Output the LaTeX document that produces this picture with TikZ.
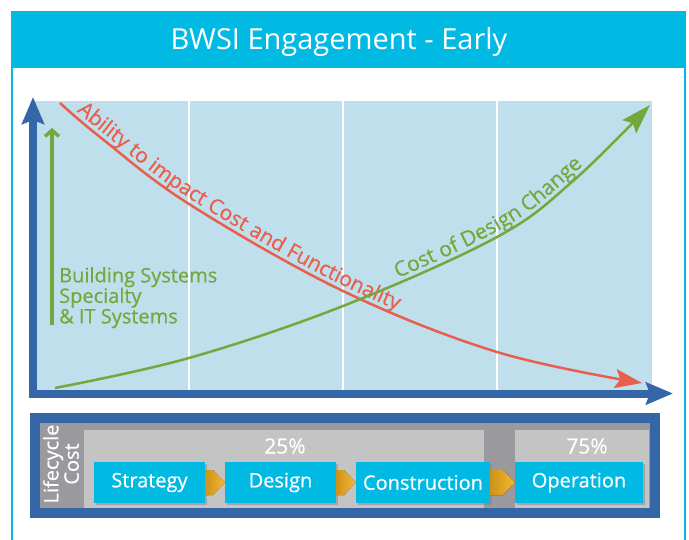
\documentclass[tikz,border=0pt]{standalone}
\usepackage{fontspec}
\setmainfont{Open Sans}[FakeBold=0.5]
\newfontfamily\titlefont{Open Sans}
\usetikzlibrary{arrows.meta,shadows,decorations.text}

\definecolor{bwsicyan}{RGB}{0,186,228}
\definecolor{plotblue}{RGB}{192,223,236}
\definecolor{axisblue}{RGB}{53,102,168}
\definecolor{curvered}{RGB}{232,96,76}
\definecolor{curvegreen}{RGB}{116,168,60}
\definecolor{panelgray}{RGB}{154,153,158}
\definecolor{phasegray}{RGB}{196,196,196}
\definecolor{chevronorange}{RGB}{245,184,50}
\definecolor{chevrondark}{RGB}{205,145,28}

\tikzset{
  axisbar/.style={axisblue, line width=8pt, -{Stealth[length=27pt,width=22pt,inset=4pt]}},
  phase/.style={fill=bwsicyan, text=white, minimum height=41pt, inner sep=0pt,
    font=\fontsize{20}{20}\selectfont,
    drop shadow={shadow xshift=2pt, shadow yshift=-2pt, opacity=0.45}},
  pct/.style={text=white, font=\fontsize{21}{21}\selectfont},
}

\newcommand{\phasearrow}[2]{%
  \fill[left color=chevrondark, right color=chevronorange]
    ([yshift=12.5pt]#1.east) -- ([xshift=-12pt,yshift=12.5pt]#2.west) -- (#2.west)
    -- ([xshift=-12pt,yshift=-12.5pt]#2.west) -- ([yshift=-12.5pt]#1.east) -- cycle;}

\begin{document}
\begin{tikzpicture}[x=1pt,y=-1pt]
            \useasboundingbox (0,0) rectangle (689,539);
            \clip (0,0) rectangle (689,539);

            % frame and title
            \draw[bwsicyan, line width=2.5pt] (12,12) rectangle (685,560);
            \fill[bwsicyan] (11,11) rectangle (686,68);
            \node[text=white, font=\titlefont\fontsize{29}{29}\selectfont] (title) at (339,42) {BWSI Engagement - Early};

            % chart
            \fill[plotblue] (35,101) rectangle (652,390);
            \foreach \gx in {189,343,497}
                \draw[white, line width=1.5pt] (\gx,101) -- (\gx,390);

            \coordinate (origin) at (33,393.5);
            \coordinate (ytip) at (33,97);
            \coordinate (xtip) at (673,393.5);
            \draw[axisbar] (33,398) -- (ytip);
            \draw[axisbar] (29,393.5) -- (xtip);

            \coordinate (sysbot) at (52,325);
            \coordinate (systop) at (52,128);
            \draw[curvegreen, line width=3.5pt, -{Straight Barb[length=6pt,width=14pt]}] (sysbot) -- (systop);
            \node[anchor=north west, inner sep=0pt, align=left, text=curvegreen,
                  font=\fontsize{20}{20.5}\selectfont] (systems) at (59,267)
                  {Building Systems\\Specialty\\\& IT Systems};

            % curves
            \draw[curvered, line width=2.5pt, -{Stealth[length=27pt,width=19pt,inset=5pt]}]
                plot[smooth, tension=0.6] coordinates {(60,103) (100,137) (189,204) (343,291) (497,352) (642,383)};
            \path[decorate, decoration={text along path, raise=5pt, text align={left indent=18pt},
                  text={|\color{curvered}\fontsize{21}{21}\selectfont|Ability to impact Cost and Functionality}}]
                plot[smooth, tension=0.6] coordinates {(60,103) (100,137) (189,204) (343,291) (497,352) (642,383)};

            \draw[curvegreen, line width=2.5pt, -{Stealth[length=30pt,width=19pt,inset=5pt]}]
                plot[smooth, tension=0.6] coordinates {(55,388) (189,358) (343,306) (497,237) (573,181) (650,105)};
            \path[decorate, decoration={text along path, raise=5pt, text align={right, right indent=90pt},
                  text={|\color{curvegreen}\fontsize{21}{21}\selectfont|Cost of Design Change}}]
                plot[smooth, tension=0.6] coordinates {(55,388) (189,358) (343,306) (497,237) (573,181) (650,105)};

            % lifecycle cost panel
            \fill[axisblue] (30,413) rectangle (660,518);
            \fill[panelgray] (40,423) rectangle (650,508);
            \fill[phasegray] (84,430) rectangle (484,508);
            \fill[phasegray] (515,430) rectangle (649,508);
            \node[rotate=90, align=center, text=white, font=\fontsize{20}{17}\selectfont] (lifecycle) at (61,464) {Lifecycle\\Cost};

            \node[pct] (early) at (285,446) {25\%};
            \node[pct] (late) at (587,446) {75\%};

            \node[phase, minimum width=111pt] (strategy) at (149.5,482.5) {Strategy};
            \node[phase, minimum width=111pt] (design) at (280.5,482.5) {Design};
            \node[phase, minimum width=134pt] (construction) at (423,482.5) {Construction};
            \node[phase, minimum width=128pt] (operation) at (579,482.5) {Operation};

            \phasearrow{strategy}{design}
            \phasearrow{design}{construction}
            \phasearrow{construction}{operation}
\end{tikzpicture}
\end{document}
